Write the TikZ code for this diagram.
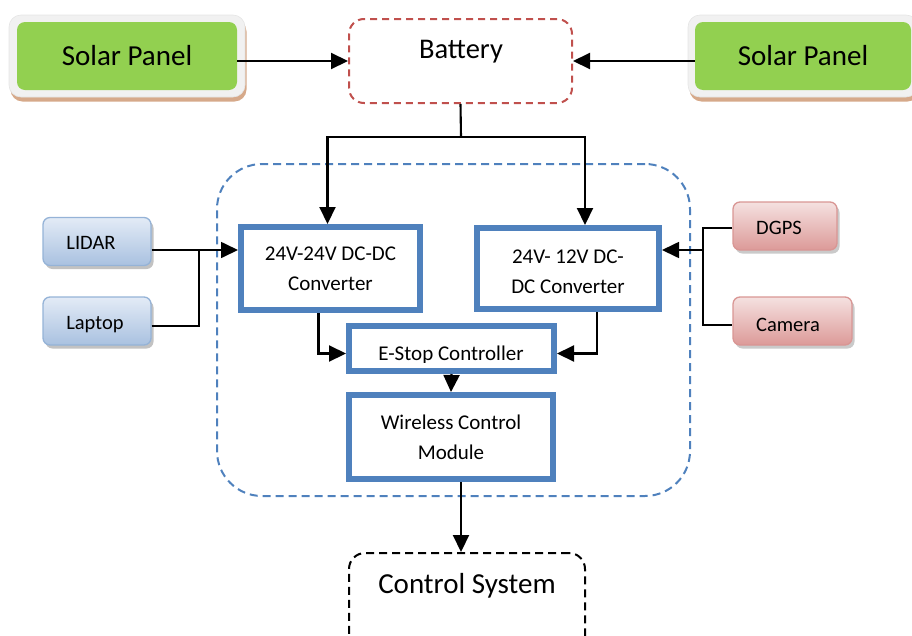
\documentclass[tikz,border=0pt]{standalone}
\usepackage{fontspec}
\setmainfont{Carlito}
\usetikzlibrary{arrows.meta,shadows}
\definecolor{boxblue}{HTML}{4F81BD}
\definecolor{battred}{HTML}{C0504D}
\definecolor{solgreen}{HTML}{92D050}
\definecolor{soltan}{HTML}{D6A98A}
\definecolor{solframe}{HTML}{F1F1F1}
\definecolor{sbTop}{HTML}{E3EBF6}
\definecolor{sbBot}{HTML}{A9C1E0}
\definecolor{sbBd}{HTML}{95B3D7}
\definecolor{spTop}{HTML}{F5E1E0}
\definecolor{spBot}{HTML}{DC9A98}
\definecolor{spBd}{HTML}{D99694}
\begin{document}
\begin{tikzpicture}[x=1pt,y=-1pt,
  conn/.style={line width=2.1pt},
  thinconn/.style={line width=1.7pt},
  arr/.style={conn,-{Triangle[length=17pt,width=16pt]}},
  thinarr/.style={thinconn,-{Triangle[length=17pt,width=16pt]}},
  bluebox/.style={rectangle,draw=boxblue,line width=6pt,fill=white,align=center,
    font=\fontsize{21}{30}\selectfont},
  solshadow/.style={rectangle,fill=soltan,rounded corners=12pt,minimum height=82pt},
  solframe/.style={rectangle,fill=solframe,draw=black!10,line width=0.6pt,rounded corners=12pt,minimum height=82pt},
  solpanel/.style={rectangle,fill=solgreen,rounded corners=8pt,minimum height=68pt,font=\fontsize{29}{34}\selectfont},
  sensorblue/.style={rectangle,rounded corners=7pt,draw=sbBd,line width=1.3pt,
    top color=sbTop,bottom color=sbBot,minimum height=48pt,
    drop shadow={shadow xshift=2.5pt,shadow yshift=-3.5pt,fill=black!40,opacity=.6}},
  sensorred/.style={rectangle,rounded corners=7pt,draw=spBd,line width=1.3pt,
    top color=spTop,bottom color=spBot,minimum height=48pt,
    drop shadow={shadow xshift=2.5pt,shadow yshift=-3.5pt,fill=black!35,opacity=.6}},
  senslabel/.style={font=\fontsize{20.5}{24}\selectfont},
]
\useasboundingbox (0,0) rectangle (912,635);
\clip (0,0) rectangle (912,635);

% container
\node[rectangle,draw=boxblue,line width=2pt,dash pattern=on 8pt off 5pt,rounded corners=45pt,
  minimum width=473pt,minimum height=332pt] (container) at (453.5,330) {};

% solar panels
\node[solshadow,minimum width=236pt] (spLsh) at (128.5,60.5) {};
\node[solframe,minimum width=236pt] (spLfr) at (127,56) {};
\node[solpanel,minimum width=220pt] (spL) at (127,56) {Solar Panel};
\node[solshadow,minimum width=230pt] (spRsh) at (804.5,60.5) {};
\node[solframe,minimum width=230pt] (spRfr) at (803,56) {};
\node[solpanel,minimum width=216pt] (spR) at (803,56) {Solar Panel};

% battery
\node[rectangle,draw=battred,line width=2pt,dash pattern=on 7pt off 5pt,rounded corners=15pt,
  minimum width=223pt,minimum height=84pt] (battery) at (460.5,61) {};
\node[font=\fontsize{28.5}{34}\selectfont] (battlabel) at (461,52) {Battery};

% converters
\node[bluebox,minimum width=179pt,minimum height=83pt] (conv1) at (330.5,268.5) {24V-24V DC-DC\\Converter};
\node[bluebox,minimum width=182pt,minimum height=81pt] (conv2) at (568,268.5) {};
\node[font=\fontsize{21}{30}\selectfont,align=center] (conv2label) at (568,272) {24V- 12V DC-\\DC Converter};

% E-stop
\node[bluebox,minimum width=205pt,minimum height=45pt] (estop) at (451.5,348.5) {};
\begin{scope}
\clip (350,327) rectangle (553,362);
\node[font=\fontsize{21}{30}\selectfont] (estoplabel) at (451,355) {E-Stop Controller};
\end{scope}

% wireless
\node[bluebox,minimum width=204pt,minimum height=84pt] (wireless) at (451,437) {Wireless Control\\Module};

% control system
\node[rectangle,draw=black,line width=2pt,dash pattern=on 8pt off 5pt,rounded corners=16pt,
  minimum width=236pt,minimum height=110pt] (ctrl) at (467,608) {};
\node[font=\fontsize{29}{34}\selectfont] (ctrllabel) at (467,586) {Control System};

% sensors
\node[sensorblue,minimum width=108pt] (lidar) at (97,241.5) {};
\node[senslabel] (lidartext) at (91,243) {LIDAR};
\node[sensorblue,minimum width=108pt] (laptop) at (97,321) {};
\node[senslabel] (laptoptext) at (95,325) {Laptop};
\node[sensorred,minimum width=104pt] (dgps) at (785,226) {};
\node[senslabel] (dgpstext) at (779,228) {DGPS};
\node[sensorred,minimum width=119pt] (camera) at (792.5,321) {};
\node[senslabel] (cameratext) at (788,325) {Camera};

% connectors: solar -> battery
\draw[arr] (spL.east |- battery.west) -- (battery.west);
\draw[arr] (spR.west |- battery.east) -- (battery.east);

% battery -> converters
\coordinate (bsplit) at (461,137);
\draw[conn] (battery.south) -- (bsplit);
\draw[arr] (bsplit) -| ([xshift=-3pt]conv1.north);
\draw[arr] (bsplit) -| ([xshift=17pt]conv2.north);

% sensors -> converters
\coordinate (jL) at (199,250);
\coordinate (jLbot) at (199,326);
\draw[thinarr] (lidar.east |- jL) -- (conv1.west |- jL);
\draw[thinconn] (laptop.east |- jLbot) -- (jLbot) -- (jL);
\coordinate (jR) at (703,250);
\coordinate (jRtop) at (703,228);
\coordinate (jRbot) at (703,325);
\draw[thinarr] (jR) -- (conv2.east |- jR);
\draw[thinconn] (dgps.west |- jRtop) -- (jRtop) -- (jRbot) -- (camera.west |- jRbot);

% converters -> estop
\draw[arr] ([xshift=-12pt]conv1.south) |- ([yshift=-5pt]estop.west);
\draw[arr] ([xshift=29pt]conv2.south) |- ([yshift=-5pt]estop.east);

% estop -> wireless -> control
\draw[arr] (estop.south) -- (wireless.north);
\draw[arr] ([xshift=10pt]wireless.south) -- ([xshift=10pt]wireless.south |- ctrl.north);
\end{tikzpicture}
\end{document}
